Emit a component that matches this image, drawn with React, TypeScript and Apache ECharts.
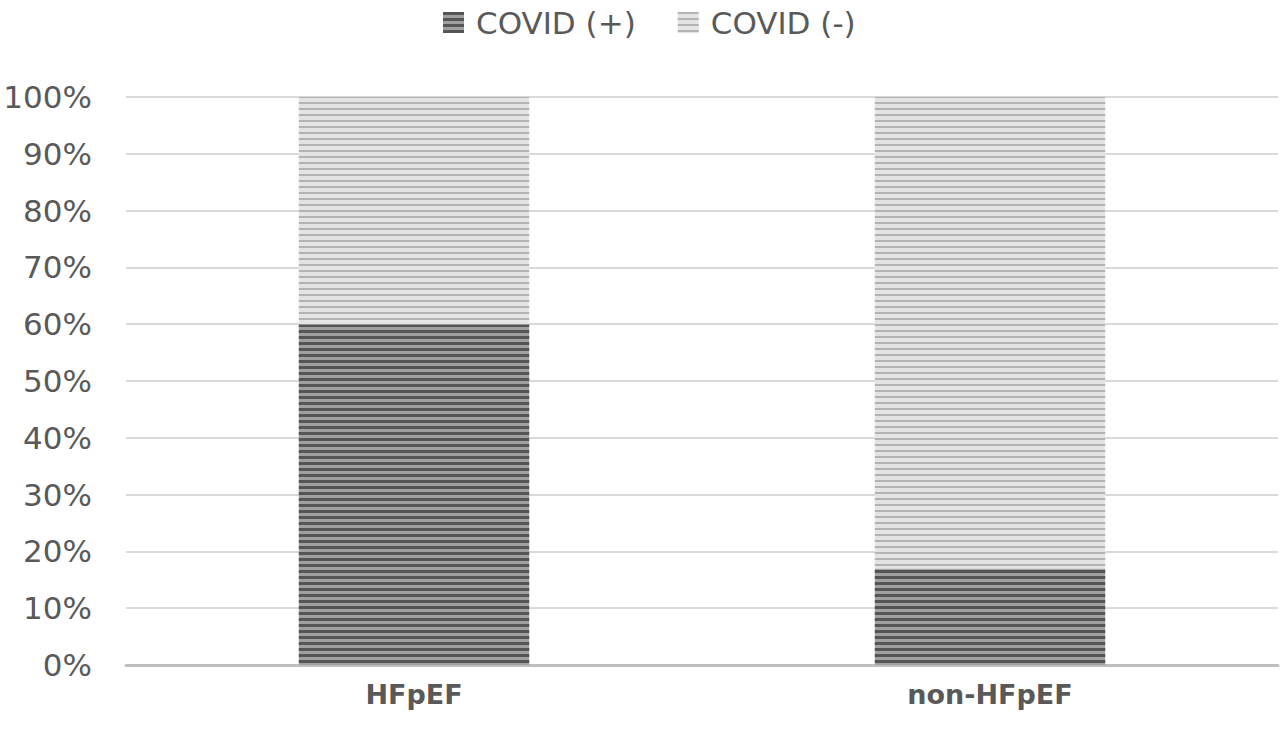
import React, { useEffect, useRef } from "react";
import * as echarts from "echarts";

const categories = ["HFpEF", "non-HFpEF"];
const covidPos = [60, 17];
const covidNeg = [40, 83];
const seriesNames = ["COVID (+)", "COVID (-)"];

export default function App() {
  const ref = useRef<HTMLDivElement>(null);
  useEffect(() => {
    const chart = echarts.init(ref.current!, null, { renderer: "svg" });
    const font = "'DejaVu Sans', 'Noto Sans', sans-serif";
    chart.setOption({
      animation: false,
      backgroundColor: "#ffffff",
      legend: {
        top: 2,
        left: 438,
        itemWidth: 21,
        itemHeight: 21,
        itemGap: 42,
        icon: "rect",
        textStyle: {
          fontSize: 31,
          color: "#595959",
          fontFamily: font,
          padding: [0, 0, 0, 7],
        },
        data: seriesNames,
      },
      grid: { left: 126, right: 2, top: 97, bottom: 75, containLabel: false },
      xAxis: {
        type: "category",
        data: categories,
        axisLine: { lineStyle: { color: "#bfbfbf", width: 3 } },
        axisTick: { show: false },
        axisLabel: {
          fontSize: 27,
          fontWeight: "bold",
          color: "#595959",
          fontFamily: font,
          margin: 16,
        },
      },
      yAxis: {
        type: "value",
        min: 0,
        max: 100,
        interval: 10,
        axisLine: { show: false },
        axisTick: { show: false },
        splitLine: { lineStyle: { color: "#d9d9d9", width: 2 } },
        axisLabel: {
          formatter: "{value}%",
          fontSize: 31,
          color: "#595959",
          fontFamily: font,
          margin: 34,
        },
      },
      series: [
        {
          name: seriesNames[0],
          type: "bar",
          stack: "total",
          barWidth: "40%",
          data: covidPos,
          itemStyle: {
            color: "#a0a0a0",
            decal: {
              symbol: "rect",
              color: "#555555",
              dashArrayX: [1, 0],
              dashArrayY: [3, 3],
              rotation: 0,
              symbolSize: 1,
            },
          },
        },
        {
          name: seriesNames[1],
          type: "bar",
          stack: "total",
          barWidth: "40%",
          data: covidNeg,
          itemStyle: {
            color: "#e4e4e4",
            decal: {
              symbol: "rect",
              color: "#b4b4b4",
              dashArrayX: [1, 0],
              dashArrayY: [2, 4],
              rotation: 0,
              symbolSize: 1,
            },
          },
        },
      ],
    });
    return () => chart.dispose();
  }, []);
  return (
    <div
      ref={ref}
      style={{ position: "absolute", left: 0, top: 0, width: 1280, height: 740 }}
    />
  );
}
